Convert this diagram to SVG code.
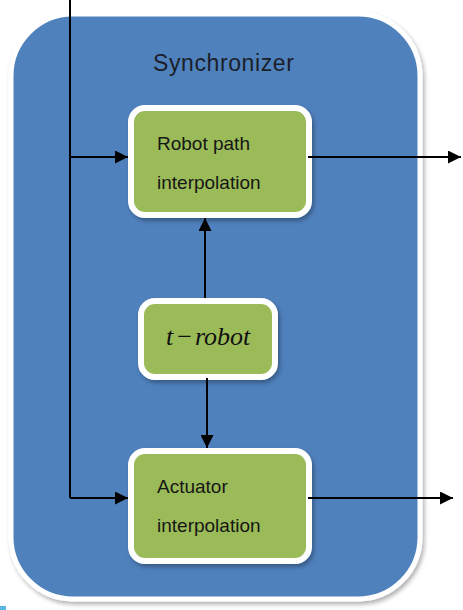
<svg xmlns="http://www.w3.org/2000/svg" width="463" height="610" viewBox="0 0 463 610">
<style>
.frame{fill:#4f81bd;stroke:#ffffff;stroke-width:5}
.box{fill:#9bbb59;stroke:#ffffff;stroke-width:6}
.lbl{font-family:"Liberation Sans",Arial,sans-serif;font-size:19px;fill:#161616}
.title{font-family:"Liberation Sans",Arial,sans-serif;font-size:23px;fill:#1b1f2a;letter-spacing:0.6px}
.math{font-family:"Liberation Serif","Times New Roman",serif;font-size:26px;font-style:italic;fill:#111}
.wire{fill:none;stroke:#000;stroke-width:2}
</style>
<defs>
<marker id="ahb" viewBox="0 0 10 10" refX="10" refY="5" markerWidth="13" markerHeight="13" markerUnits="userSpaceOnUse" orient="auto">
<path d="M0,0 L10,5 L0,10 z" fill="#000"/>
</marker>
<filter id="sh" x="-10%" y="-10%" width="130%" height="130%">
<feDropShadow dx="2" dy="3" stdDeviation="2" flood-color="#000" flood-opacity="0.3"/>
</filter>
</defs>
<rect x="0" y="606" width="6" height="4" fill="#5bb4e6"/>
<g id="synchronizer">
<rect class="frame" x="11" y="14" width="409" height="585" rx="62" filter="url(#sh)"/>
<text class="title" x="153" y="71">Synchronizer</text>
</g>
<g id="robot-path">
<rect class="box" x="131" y="108" width="178" height="107" rx="14" filter="url(#sh)"/>
<text class="lbl" x="157" y="150">Robot path</text>
<text class="lbl" x="157" y="189">interpolation</text>
</g>
<g id="t-robot">
<rect class="box" x="141" y="301" width="134" height="76" rx="14" filter="url(#sh)"/>
<text class="math" x="166" y="345">t<tspan dx="4" font-style="normal">−</tspan><tspan dx="3">robot</tspan></text>
</g>
<g id="actuator">
<rect class="box" x="131" y="451" width="178" height="110" rx="14" filter="url(#sh)"/>
<text class="lbl" x="157" y="493">Actuator</text>
<text class="lbl" x="157" y="532">interpolation</text>
</g>
<g id="connectors">
<path class="wire" d="M70,0 V498"/>
<path class="wire" d="M70,157 H128" marker-end="url(#ahb)"/>
<path class="wire" d="M70,498 H128" marker-end="url(#ahb)"/>
<path class="wire" d="M308,157 H461" marker-end="url(#ahb)"/>
<path class="wire" d="M308,498 H453" marker-end="url(#ahb)"/>
<path class="wire" d="M205,298 V218" marker-end="url(#ahb)"/>
<path class="wire" d="M207,378 V448" marker-end="url(#ahb)"/>
</g>
</svg>
